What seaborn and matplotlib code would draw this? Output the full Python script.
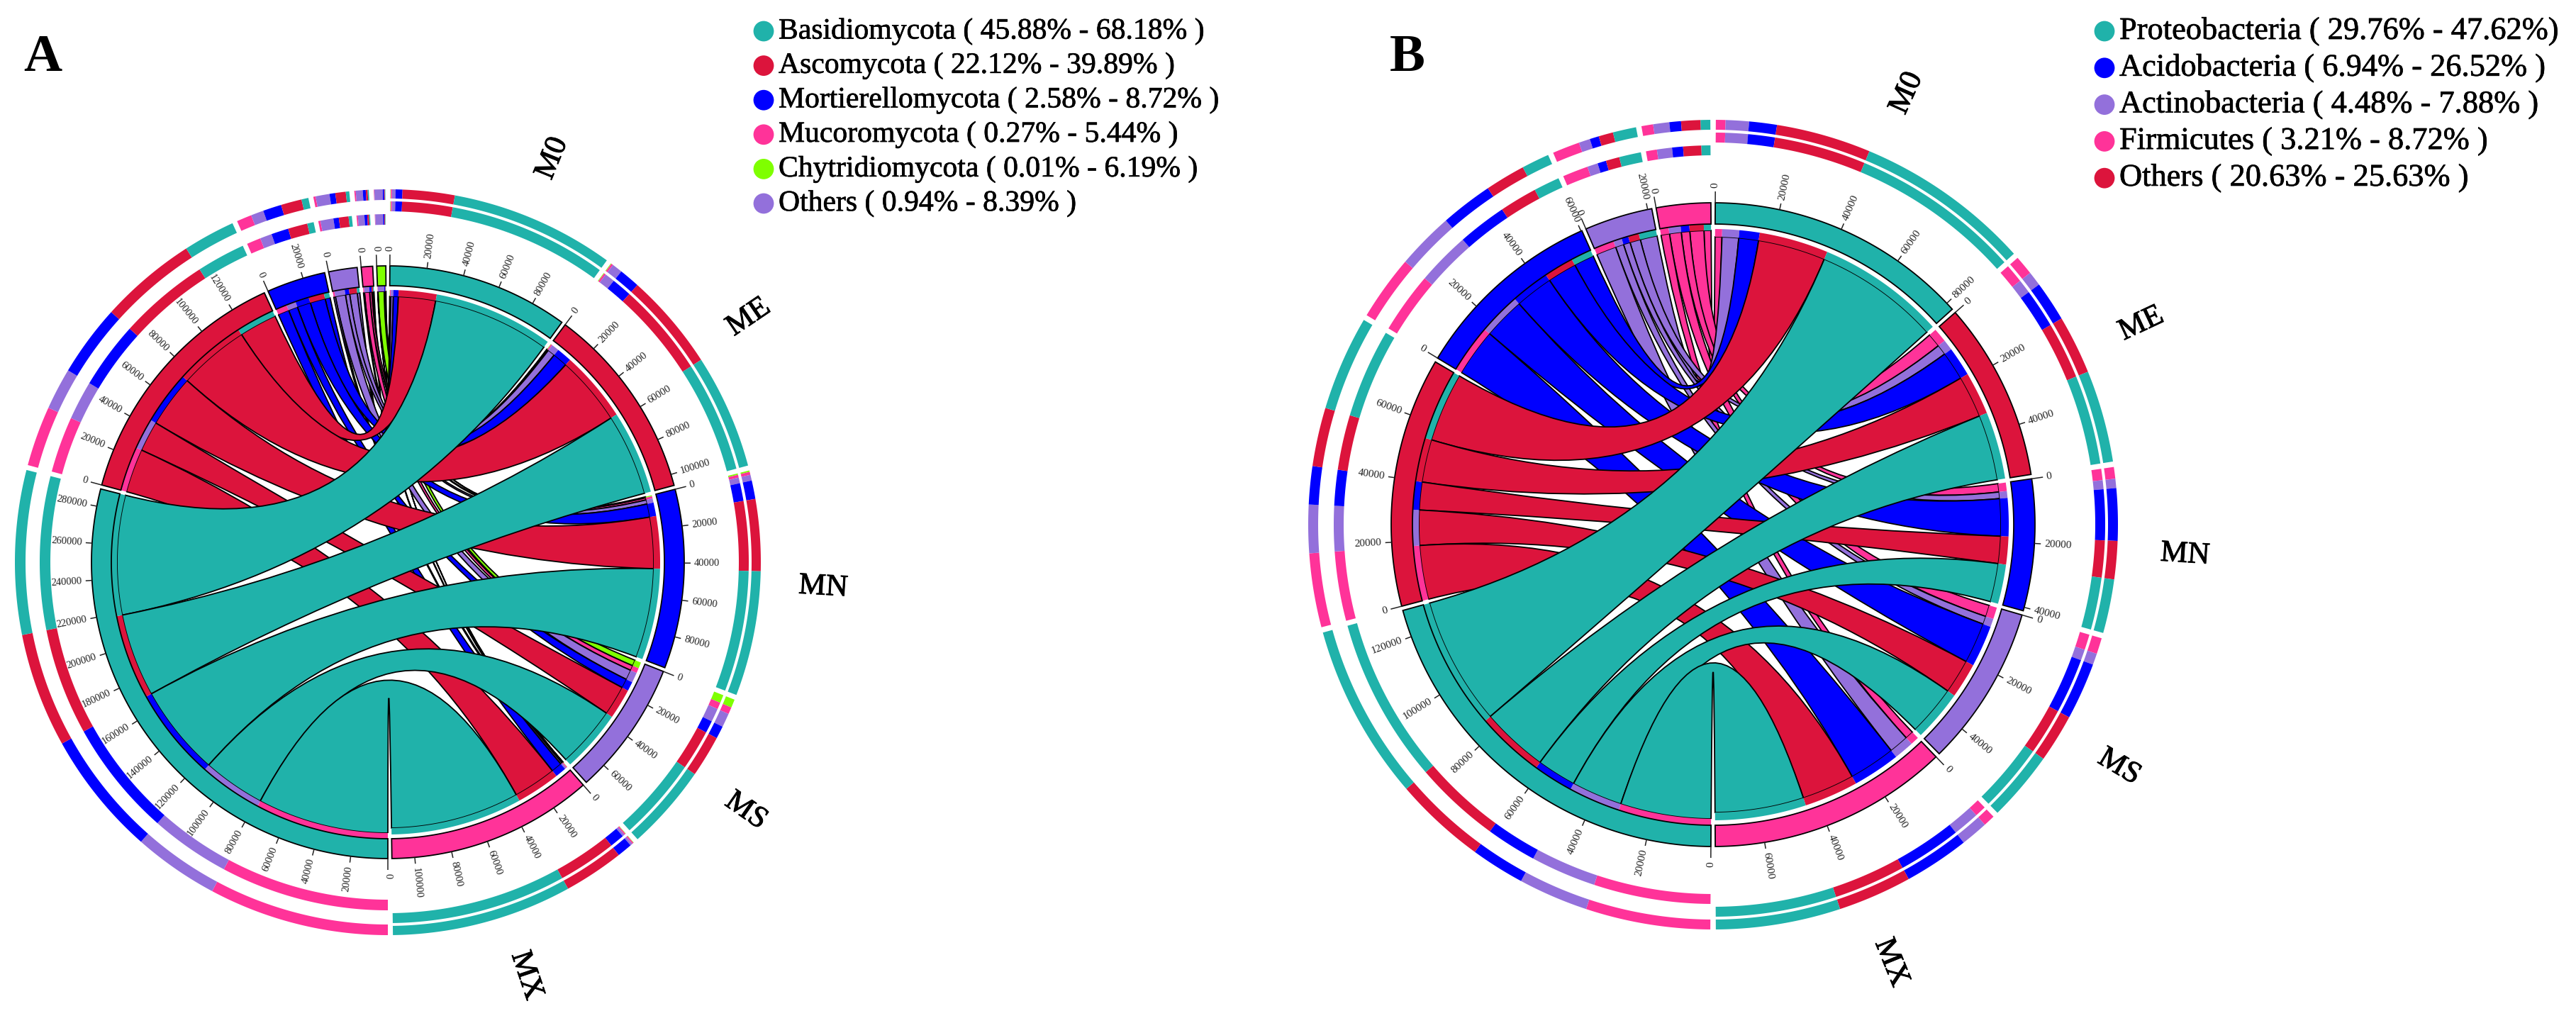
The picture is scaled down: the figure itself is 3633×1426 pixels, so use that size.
import numpy as np
import seaborn as sns
import matplotlib.pyplot as plt
import matplotlib.patheffects as pe
from matplotlib.path import Path
from matplotlib.patches import PathPatch

samples = ["M0", "ME", "MN", "MS", "MX"]

# panel A, reads per sample (M0, ME, MN, MS, MX)
fungi = ["Basidiomycota", "Ascomycota", "Mortierellomycota", "Mucoromycota", "Chytridiomycota", "Others"]
fungi_ranges = ["( 45.88% - 68.18% )", "( 22.12% - 39.89% )", "( 2.58% - 8.72% )",
                "( 0.27% - 5.44% )", "( 0.01% - 6.19% )", "( 0.94% - 8.39% )"]
basidiomycota = [71000, 49500, 54000, 37000, 78000]
ascomycota = [22500, 42000, 31000, 18000, 26000]
mortierellomycota = [3000, 9000, 8000, 5500, 6500]
others_a = [1500, 4500, 2500, 6000, 1000]
mucoromycota = [500, 800, 1300, 3000, 600]
chytridiomycota = [200, 300, 600, 3600, 200]

# panel B
bacteria = ["Proteobacteria", "Acidobacteria", "Actinobacteria", "Firmicutes", "Others"]
bacteria_ranges = ["( 29.76% - 47.62%)", "( 6.94% - 26.52% )", "( 4.48% - 7.88% )",
                   "( 3.21% - 8.72% )", "( 20.63% - 25.63% )"]
proteobacteria = [43800, 22900, 13400, 17400, 31000]
others_b = [23600, 14600, 9500, 12000, 18400]
acidobacteria = [6900, 10000, 13000, 14200, 16200]
actinobacteria = [5800, 3600, 2300, 2800, 6800]
firmicutes = [2400, 4800, 2900, 4000, 2900]

TEAL, RED, BLUE = "#20B2AA", "#DC143C", "#0000FF"
PURPLE, PINK, GREEN = "#9370DB", "#FF3399", "#7FFF00"
sample_colors = [TEAL, RED, BLUE, PURPLE, PINK]

sns.set_theme(style="white")
plt.rcParams["font.family"] = ["Liberation Serif", "DejaVu Serif"]

fig = plt.figure(figsize=(36.33, 14.26), dpi=100)
ax = fig.add_axes([0, 0, 1, 1])
ax.set_xlim(0, 3633)
ax.set_ylim(1426, 0)
ax.axis("off")

heavy = [pe.withStroke(linewidth=0.7, foreground="black")]


def pol(cx, cy, r, ang):
    a = np.radians(ang)
    return cx + r * np.sin(a), cy - r * np.cos(a)


def arc(cx, cy, r, a0, a1):
    n = max(int(abs(a1 - a0) * 2) + 2, 3)
    t = np.linspace(a0, a1, n)
    return np.column_stack(pol(cx, cy, r, t))


def band(cx, cy, r0, r1, a0, a1, color, ec="none", lw=0, z=2):
    pts = np.vstack([arc(cx, cy, r1, a0, a1), arc(cx, cy, r0, a1, a0)])
    ax.fill(pts[:, 0], pts[:, 1], facecolor=color, edgecolor=ec, linewidth=lw, zorder=z, joinstyle="miter")


def ribbon(cx, cy, rt, t0, t1, rs, s0, s1, color, z):
    top = arc(cx, cy, rt, t0, t1)
    bot = arc(cx, cy, rs, s0, s1)
    verts = list(top) + [(cx, cy), bot[0]] + list(bot[1:]) + [(cx, cy), top[0]]
    codes = [Path.MOVETO] + [Path.LINETO] * (len(top) - 1) + [Path.CURVE3, Path.CURVE3]
    codes += [Path.LINETO] * (len(bot) - 1) + [Path.CURVE3, Path.CURVE3]
    ax.add_patch(PathPatch(Path(verts, codes), facecolor=color, edgecolor="black", lw=1.3, zorder=z))


def ticks(cx, cy, R, start, total, k, fs):
    for v in np.arange(0, total + 1, 20000):
        a = start + v * k
        tl = 16 if v == 0 else 9
        p0, p1 = pol(cx, cy, R, a), pol(cx, cy, R + tl, a)
        ax.plot([p0[0], p1[0]], [p0[1], p1[1]], color="#222222", lw=1.1, zorder=4, solid_capstyle="butt")
        lx, ly = pol(cx, cy, R + tl + 5, a)
        right = a % 360 <= 180
        rot = 90 - a if right else 270 - a
        ax.text(lx, ly, str(int(v)), fontsize=fs, color="#222222", rotation=rot, rotation_mode="anchor",
                ha="left" if right else "right", va="center", zorder=4)


def chord(cx, cy, g, rows, row_colors, label_shift):
    rows = np.array(rows, dtype=float)
    gap = 0.78
    n = len(samples) + len(rows)
    k = (360 - n * gap) / (2 * rows.sum())
    R = g["R"]

    pos = gap / 2
    sample_start = []
    for tot in rows.sum(axis=0):
        sample_start.append(pos)
        pos += tot * k + gap
    taxa_start = []
    for tot in rows.sum(axis=1):
        taxa_start.append(pos)
        pos += tot * k + gap

    # sample sectors: taxa run last to first going clockwise
    s_pos = {}
    for j, name in enumerate(samples):
        tot = rows[:, j].sum()
        a = sample_start[j]
        band(cx, cy, R - g["ring"], R, a, a + tot * k, sample_colors[j], "black", 1.3, 3)
        ticks(cx, cy, R, a, tot, k, g["fs"])
        for i in range(len(rows) - 1, -1, -1):
            b = a + rows[i, j] * k
            s_pos[i, j] = (a, b)
            band(cx, cy, g["rs"], g["rs"] + g["strip"], a, b, row_colors[i], z=2)
            band(cx, cy, g["s1"][0], g["s1"][1], a, b, row_colors[i])
            band(cx, cy, g["s2"][0], g["s2"][1], a, b, row_colors[i])
            a = b
        mid = sample_start[j] + tot * k / 2 + label_shift[j]
        lx, ly = pol(cx, cy, g["lab"], mid)
        ax.text(lx, ly, name, fontsize=g["lab_fs"], rotation=90 - mid, ha="center", va="center",
                rotation_mode="anchor", color="black", path_effects=heavy)

    # taxa sectors: samples run last to first going clockwise
    t_pos = {}
    for i, col in enumerate(row_colors):
        tot = rows[i].sum()
        a = taxa_start[i]
        band(cx, cy, R - g["ring"], R, a, a + tot * k, col, "black", 1.3, 3)
        ticks(cx, cy, R, a, tot, k, g["fs"])
        for j in range(len(samples) - 1, -1, -1):
            b = a + rows[i, j] * k
            t_pos[i, j] = (a, b)
            band(cx, cy, g["rt"], R - g["ring"], a, b, sample_colors[j], z=2)
            band(cx, cy, g["t1"][0], g["t1"][1], a, b, sample_colors[j])
            band(cx, cy, g["t2"][0], g["t2"][1], a, b, sample_colors[j])
            a = b

    z = 1.0
    for i in range(len(rows) - 1, -1, -1):
        for j in range(len(samples)):
            ribbon(cx, cy, g["rt"], *t_pos[i, j], g["rs"], *s_pos[i, j], row_colors[i], z)
            z += 0.01


geo_a = dict(R=418, ring=28, rs=375, strip=9, rt=382, fs=10.5, lab=615, lab_fs=31,
             s1=(513, 526), s2=(495, 509), t1=(511, 526), t2=(476, 491))
geo_b = dict(R=454, ring=30, rs=406, strip=11, rt=415, fs=11, lab=667, lab_fs=31,
             s1=(557, 571), s2=(539, 553), t1=(557, 571), t2=(521, 535))

chord(547, 793, geo_a, [basidiomycota, ascomycota, mortierellomycota, others_a, mucoromycota, chytridiomycota],
      [TEAL, RED, BLUE, PURPLE, PINK, GREEN], [4, 0, 0, 0, 2.5])
chord(2416, 740, geo_b, [proteobacteria, others_b, acidobacteria, actinobacteria, firmicutes],
      [TEAL, RED, BLUE, PURPLE, PINK], [0, 0, 0, 0, 0])

# legends
legend_a_colors = [TEAL, RED, BLUE, PINK, GREEN, PURPLE]
legend_b_colors = [TEAL, BLUE, PURPLE, PINK, RED]
for names, ranges, cols, x, y0, dy, fs in [(fungi, fungi_ranges, legend_a_colors, 1077, 44, 48.6, 30),
                                           (bacteria, bacteria_ranges, legend_b_colors, 2968, 44, 51.8, 32)]:
    ys = [y0 + dy * i for i in range(len(names))]
    sns.scatterplot(x=[x] * len(names), y=ys, hue=names, palette=dict(zip(names, cols)), s=430,
                    linewidth=0, legend=False, ax=ax, zorder=5)
    for name, rng, y in zip(names, ranges, ys):
        ax.text(x + 21, y, f"{name} {rng}", fontsize=fs, va="center", ha="left", color="black",
                path_effects=[pe.withStroke(linewidth=0.5, foreground="black")])

ax.set_xlim(0, 3633)
ax.set_ylim(1426, 0)
ax.text(60, 82, "A", fontsize=54, fontweight="bold", ha="center", va="center", color="black")
ax.text(1985, 82, "B", fontsize=54, fontweight="bold", ha="center", va="center", color="black")

fig.savefig("out.png", dpi=100, facecolor="white")
